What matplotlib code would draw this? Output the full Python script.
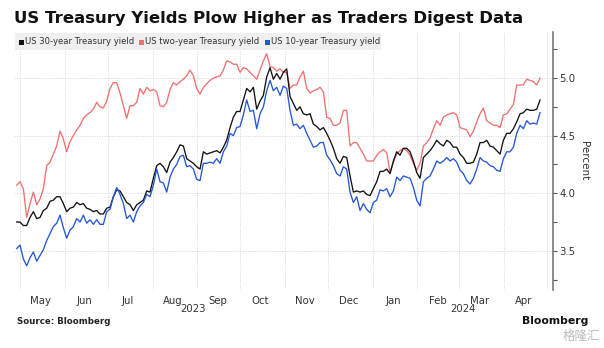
import matplotlib
matplotlib.use("Agg")
import matplotlib.pyplot as plt
import matplotlib.dates as mdates
from matplotlib.patches import Rectangle
import matplotlib.transforms as mtransforms
import pandas as pd

# ---------------- data ----------------
start_date = "2023-04-28 16:00"
end_date = "2024-04-26 02:40"

us2y = [4.07, 4.10, 4.04, 3.79, 3.91, 4.01, 3.90, 3.95, 4.04, 4.24, 4.27, 4.34, 4.41, 4.54, 4.47, 4.36, 4.45, 4.50, 4.55, 4.59, 4.65, 4.68, 4.70, 4.73, 4.79,
        4.75, 4.74, 4.80, 4.91, 4.96, 4.96, 4.87, 4.76, 4.65, 4.76, 4.76, 4.79, 4.91, 4.86, 4.92, 4.89, 4.90, 4.88, 4.76, 4.75, 4.79, 4.90, 4.96, 4.94, 4.97, 4.99, 5.02,
        5.07, 5.02, 4.91, 4.86, 4.92, 4.95, 4.98, 5.00, 5.01, 5.02, 5.07, 5.15, 5.14, 5.12, 5.12, 5.05, 5.09, 5.08, 5.05, 5.02, 4.99, 5.07, 5.15, 5.21, 5.10, 5.09, 5.06,
        5.08, 5.05, 5.05, 4.91, 4.94, 4.94, 5.01, 5.06, 4.91, 4.87, 4.89, 4.90, 4.92, 4.88, 4.66, 4.65, 4.59, 4.59, 4.61, 4.72, 4.72, 4.41, 4.44, 4.44, 4.39, 4.34, 4.28,
        4.28, 4.28, 4.33, 4.36, 4.38, 4.35, 4.18, 4.27, 4.34, 4.37, 4.39, 4.37, 4.33, 4.26, 4.20, 4.26, 4.41, 4.44, 4.48, 4.56, 4.63, 4.59, 4.66, 4.68, 4.69, 4.70, 4.68,
        4.57, 4.56, 4.55, 4.49, 4.54, 4.62, 4.69, 4.74, 4.63, 4.61, 4.59, 4.59, 4.57, 4.68, 4.69, 4.73, 4.77, 4.94, 4.94, 4.94, 4.99, 4.98, 4.97, 4.94, 5.00]

us30y = [3.75, 3.75, 3.72, 3.72, 3.79, 3.84, 3.78, 3.79, 3.85, 3.87, 3.93, 3.94, 3.97, 3.97, 3.91, 3.84, 3.87, 3.88, 3.92, 3.90, 3.91, 3.87, 3.86, 3.84, 3.85,
         3.82, 3.82, 3.87, 3.88, 3.97, 4.03, 4.02, 3.97, 3.92, 3.90, 3.85, 3.90, 3.92, 3.94, 4.02, 4.01, 4.13, 4.24, 4.26, 4.23, 4.18, 4.27, 4.31, 4.36, 4.42, 4.41, 4.30,
         4.28, 4.26, 4.23, 4.21, 4.36, 4.34, 4.35, 4.36, 4.37, 4.35, 4.40, 4.46, 4.57, 4.66, 4.71, 4.71, 4.81, 4.91, 4.88, 4.92, 4.73, 4.80, 4.85, 5.01, 5.09, 4.99, 5.04,
         4.99, 5.05, 5.08, 4.84, 4.78, 4.72, 4.75, 4.69, 4.68, 4.69, 4.60, 4.58, 4.55, 4.57, 4.52, 4.46, 4.39, 4.30, 4.26, 4.32, 4.31, 4.15, 4.01, 4.02, 4.01, 4.02, 3.99,
         3.98, 4.04, 4.10, 4.19, 4.19, 4.21, 4.17, 4.28, 4.36, 4.33, 4.39, 4.39, 4.36, 4.28, 4.18, 4.13, 4.31, 4.34, 4.37, 4.41, 4.46, 4.43, 4.41, 4.46, 4.44, 4.40, 4.40,
         4.34, 4.31, 4.26, 4.26, 4.27, 4.34, 4.44, 4.44, 4.46, 4.41, 4.40, 4.37, 4.34, 4.46, 4.52, 4.52, 4.56, 4.62, 4.69, 4.70, 4.73, 4.72, 4.72, 4.73, 4.81]

us10y = [3.52, 3.55, 3.43, 3.37, 3.44, 3.49, 3.41, 3.46, 3.51, 3.59, 3.65, 3.71, 3.74, 3.81, 3.70, 3.61, 3.68, 3.71, 3.78, 3.75, 3.81, 3.74, 3.77, 3.73, 3.77,
         3.73, 3.73, 3.84, 3.86, 3.97, 4.05, 3.99, 3.91, 3.78, 3.81, 3.75, 3.84, 3.89, 3.92, 3.99, 3.97, 4.07, 4.21, 4.10, 4.09, 4.01, 4.14, 4.21, 4.25, 4.32, 4.33, 4.23,
         4.24, 4.21, 4.12, 4.11, 4.26, 4.26, 4.27, 4.26, 4.30, 4.26, 4.36, 4.41, 4.52, 4.50, 4.57, 4.58, 4.68, 4.81, 4.71, 4.72, 4.56, 4.69, 4.75, 4.89, 4.98, 4.89, 4.92,
         4.85, 4.93, 4.91, 4.72, 4.59, 4.60, 4.56, 4.59, 4.52, 4.46, 4.40, 4.41, 4.44, 4.44, 4.33, 4.29, 4.24, 4.17, 4.15, 4.23, 4.21, 4.01, 3.92, 3.97, 3.85, 3.91, 3.86,
         3.83, 3.92, 3.94, 4.03, 4.02, 4.04, 3.97, 4.02, 4.14, 4.11, 4.15, 4.14, 4.13, 4.05, 3.94, 3.89, 4.10, 4.13, 4.15, 4.21, 4.28, 4.26, 4.28, 4.31, 4.28, 4.30, 4.27,
         4.20, 4.17, 4.11, 4.08, 4.13, 4.21, 4.31, 4.28, 4.27, 4.24, 4.23, 4.20, 4.19, 4.30, 4.36, 4.36, 4.40, 4.52, 4.59, 4.56, 4.63, 4.60, 4.61, 4.60, 4.70]

series_names = ["US 30-year Treasury yield", "US two-year Treasury yield", "US 10-year Treasury yield"]
series_colors = ["#111111", "#f07070", "#2456d6"]
month_labels = ["May", "Jun", "Jul", "Aug", "Sep", "Oct", "Nov", "Dec", "Jan", "Feb", "Mar", "Apr"]
year_labels = ["2023", "2024"]
y_ticks = [3.5, 4.0, 4.5, 5.0]

dates = pd.date_range(start_date, end_date, periods=len(us2y))

# ---------------- figure ----------------
W, H = 604, 348
fig = plt.figure(figsize=(W / 100, H / 100), dpi=100)
fig.patch.set_facecolor("white")

def fx(px):
    return px / W

def fy(py):
    return 1 - py / H

ax = fig.add_axes([fx(14), fy(290), fx(553) - fx(14), fy(32) - fy(290)])
ax.set_facecolor("white")

ax.plot(dates, us2y, color=series_colors[1], lw=0.95, zorder=3)
ax.plot(dates, us30y, color=series_colors[0], lw=0.95, zorder=4)
ax.plot(dates, us10y, color=series_colors[2], lw=0.95, zorder=5)

x0 = pd.Timestamp("2023-05-01")
ax.set_xlim(x0 - pd.Timedelta(days=4.2), x0 + pd.Timedelta(days=370.1))
ax.set_ylim(3.16, 5.40)

# x axis: gridlines at month starts, labels at mid-month
month_starts = pd.date_range("2023-05-01", "2024-05-01", freq="MS")
mid_months = [d + pd.Timedelta(days=14) for d in month_starts[:-1]]
ax.set_xticks(month_starts)
ax.set_xticklabels([""] * len(month_starts))
ax.set_xticks(mid_months, minor=True)
ax.set_xticklabels(month_labels, minor=True)
ax.tick_params(axis="x", which="both", length=0, pad=4, labelsize=7.3, labelcolor="#333333")
ax.xaxis.grid(True, which="major", color="#d4d4d4", linestyle=(0, (1, 1.5)), lw=0.7)

# y axis on right
ax.yaxis.tick_right()
ax.yaxis.set_label_position("right")
ax.set_yticks(y_ticks)
ax.set_yticklabels([f"{v:.1f}" for v in y_ticks])
ax.set_yticks([3.25, 3.75, 4.25, 4.75, 5.25], minor=True)
ax.tick_params(axis="y", which="both", length=3, width=0.8, color="#555555",
               labelsize=7.3, labelcolor="#333333", pad=1.5, direction="out")
ax.yaxis.grid(True, which="major", color="#d4d4d4", linestyle=(0, (1, 1.5)), lw=0.7)
ax.set_ylabel("Percent", rotation=270, fontsize=7.5, color="#333333", labelpad=10)

for s in ["top", "left", "bottom"]:
    ax.spines[s].set_visible(False)
ax.spines["right"].set_color("#777777")
ax.spines["right"].set_linewidth(1.2)

# year labels, centered under the visible part of each year
trans = mtransforms.blended_transform_factory(ax.transData, fig.transFigure)
xl = ax.get_xlim()
y23_mid = (xl[0] + mdates.date2num(pd.Timestamp("2024-01-01"))) / 2
y24_mid = (mdates.date2num(pd.Timestamp("2024-01-01")) + xl[1]) / 2
for xm, lab in zip([y23_mid, y24_mid], year_labels):
    ax.text(xm, fy(309), lab, transform=trans, ha="center", va="center",
            fontsize=7.3, color="#333333")

# title
fig.text(fx(14), fy(18), "US Treasury Yields Plow Higher as Traders Digest Data",
         fontsize=11.85, fontweight="bold", color="#111111", ha="left", va="center")

# legend box
fig.patches.append(Rectangle((fx(15), fy(50)), fx(381) - fx(15), fy(33) - fy(50),
                             transform=fig.transFigure, facecolor="#efefef",
                             edgecolor="none", zorder=10))
leg_x = [19, 139, 265]
for lx, name, col in zip(leg_x, series_names, series_colors):
    fig.patches.append(Rectangle((fx(lx), fy(44.5)), fx(5), 5 / H,
                                 transform=fig.transFigure, facecolor=col,
                                 edgecolor="none", zorder=11))
    fig.text(fx(lx + 6), fy(41.5), name, fontsize=6.1, color="#333333",
             ha="left", va="center", zorder=12)

# footer
fig.text(fx(17), fy(322), "Source: Bloomberg", fontsize=6.2, fontweight="bold",
         color="#222222", ha="left", va="center")
fig.text(fx(588), fy(321), "Bloomberg", fontsize=7.8, fontweight="bold",
         color="#111111", ha="right", va="center")
fig.text(fx(600), fy(336), "格隆汇", fontsize=9, color="#bbbbbb", ha="right",
         va="center", family=["Noto Sans CJK SC", "DejaVu Sans"])

fig.savefig("out.png", dpi=100, facecolor="white")
